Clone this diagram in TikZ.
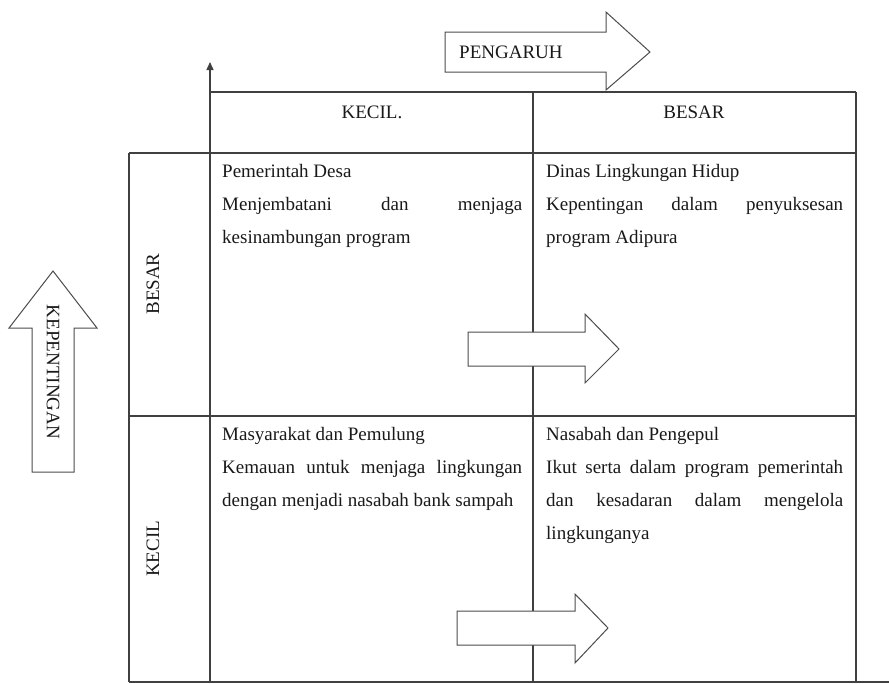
\documentclass[tikz,border=0pt]{standalone}
\usepackage{fontspec}
\setmainfont{Liberation Serif}
\usetikzlibrary{arrows.meta}
\begin{document}
\begin{tikzpicture}[x=1pt,y=-1pt,
  gridline/.style={draw=black!75,line width=1.3pt},
  blockarrow/.style={draw=black!70,line width=1pt,fill=white,line join=miter},
  lbl/.style={text=black!90,font=\fontsize{19}{33}\selectfont,inner sep=0pt},
  celltext/.style={lbl,anchor=base west}]
\useasboundingbox (0,0) rectangle (889,683);
% grid
\draw[gridline] (210,92) -- (856,92);
\draw[gridline] (129,153) -- (856,153);
\draw[gridline] (129,416) -- (856,416);
\draw[gridline] (129,682) -- (889,682);
\draw[gridline] (129,153) -- (129,682);
\draw[gridline] (533,92) -- (533,682);
\draw[gridline] (856,92) -- (856,682);
\coordinate (axisbottom) at (210,682);
\coordinate (axistop) at (210,62);
\draw[gridline,-{Triangle[length=8pt,width=7pt]}] (axisbottom) -- (axistop);
% block arrows
\draw[blockarrow] (445,32) -- (606,32) -- (606,12) -- (650,52) -- (606,90) -- (606,72) -- (445,72) -- cycle;
\draw[blockarrow] (32,472) -- (32,328) -- (9,328) -- (53,271) -- (97,328) -- (74,328) -- (74,472) -- cycle;
\draw[blockarrow] (468,332) -- (585,332) -- (585,314) -- (619,349) -- (585,383) -- (585,366) -- (468,366) -- cycle;
\draw[blockarrow] (457,611) -- (575,611) -- (575,594) -- (608,628) -- (575,663) -- (575,645) -- (457,645) -- cycle;
% labels
\node[lbl,anchor=base west] (pengaruh) at (459,58) {PENGARUH};
\node[lbl,rotate=-90] (kepentingan) at (53,372) {KEPENTINGAN};
\node[lbl,anchor=base] (hkecil) at (372,118) {KECIL.};
\node[lbl,anchor=base] (hbesar) at (694,118) {BESAR};
\node[lbl,rotate=90] (sbesar) at (153,284) {BESAR};
\node[lbl,rotate=90] (skecil) at (153,549) {KECIL};
% cells
\node[celltext] (c11) at (222,177) {\parbox[t]{300pt}{\fontsize{19}{33}\selectfont
  Pemerintah Desa\\
  \makebox[300pt][s]{Menjembatani dan menjaga}\\
  kesinambungan program}};
\node[celltext] (c12) at (546,177) {\parbox[t]{297pt}{\fontsize{19}{33}\selectfont
  Dinas Lingkungan Hidup\\
  \makebox[297pt][s]{Kepentingan dalam penyuksesan}\\
  program Adipura}};
\node[celltext] (c21) at (222,440) {\parbox[t]{300pt}{\fontsize{19}{33}\selectfont
  Masyarakat dan Pemulung\\
  \makebox[300pt][s]{Kemauan untuk menjaga lingkungan}\\
  dengan menjadi nasabah bank sampah}};
\node[celltext] (c22) at (546,440) {\parbox[t]{297pt}{\fontsize{19}{33}\selectfont
  Nasabah dan Pengepul\\
  \makebox[297pt][s]{Ikut serta dalam program pemerintah}\\
  \makebox[297pt][s]{dan kesadaran dalam mengelola}\\
  lingkunganya}};
\end{tikzpicture}
\end{document}
